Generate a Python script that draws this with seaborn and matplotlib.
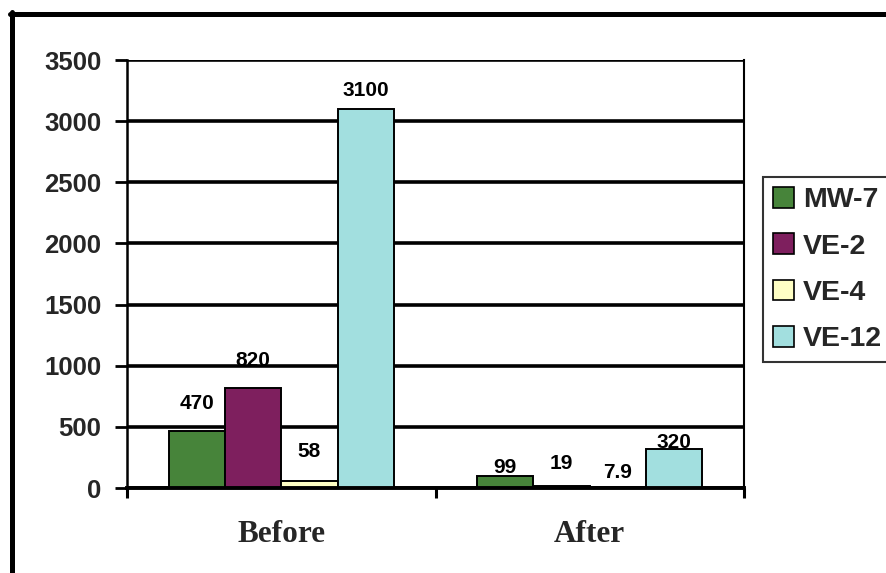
import matplotlib
matplotlib.use("Agg")
import matplotlib.pyplot as plt
from matplotlib.lines import Line2D
import seaborn as sns
import pandas as pd

# Measurements per well, before and after treatment
periods = ["Before", "After"]
wells = ["MW-7", "VE-2", "VE-4", "VE-12"]
before_vals = [470, 820, 58, 3100]
after_vals = [99, 19, 7.9, 320]
value_labels_before = ["470", "820", "58", "3100"]
value_labels_after = ["99", "19", "7.9", "320"]
y_ticks = [0, 500, 1000, 1500, 2000, 2500, 3000, 3500]

colors = ["#47843A", "#7E1F5E", "#FFFFC4", "#A2DFDF"]

# vertical offset (pixels) of each value label above its bar
label_lift_before = [27, 27, 29, 18]
label_lift_after = [8, 22, 15, 6]

df = pd.DataFrame({
    "period": [p for p in periods for _ in wells],
    "well": wells * 2,
    "value": before_vals + after_vals,
})

sns.set_theme(style="white")
plt.rcParams["font.family"] = ["Liberation Sans", "DejaVu Sans"]

DPI = 100
fig = plt.figure(figsize=(8.86, 5.73), dpi=DPI)
fig.patch.set_facecolor("white")
ax = fig.add_axes([127 / 886, 85 / 573, (744 - 127) / 886, (488 - 60) / 573])

sns.barplot(data=df, x="period", y="value", hue="well", order=periods,
            hue_order=wells, palette=colors, width=0.73, gap=0,
            edgecolor="black", linewidth=1.4, saturation=1, ax=ax,
            errorbar=None, legend=True)

ax.set_ylim(0, 3500)
ax.set_xlim(-0.5, 1.5)
ax.set_yticks(y_ticks)
ax.set_yticklabels([str(t) for t in y_ticks], fontsize=18.5, fontweight="bold")
ax.set_xlabel("")
ax.set_ylabel("")

# gridlines above the value labels, below the bars
ax.set_axisbelow(True)
ax.yaxis.grid(True, color="black", linewidth=2.6)
ax.xaxis.grid(False)

# category boundary ticks, names centred in between
ax.set_xticks([-0.5, 0.5, 1.5])
ax.set_xticklabels(["", "", ""])
ax.set_xticks([0, 1], minor=True)
ax.set_xticklabels(periods, minor=True, fontsize=22.5, fontweight="bold",
                   family=["Liberation Serif", "DejaVu Serif"])
ax.tick_params(axis="x", which="major", direction="out", length=7,
               width=2.2, color="black", bottom=True)
ax.tick_params(axis="x", which="minor", length=0, pad=23, bottom=True)
ax.tick_params(axis="y", direction="out", length=8.6, width=2.0,
               color="black", pad=10, left=True)

ax.spines["top"].set_visible(False)
ax.spines["left"].set_linewidth(1.8)
ax.spines["left"].set_color("black")
ax.spines["right"].set_linewidth(1.5)
ax.spines["right"].set_color("black")
ax.spines["bottom"].set_linewidth(2.8)
ax.spines["bottom"].set_color("black")

# value labels
for h, cont in enumerate(ax.containers):
    texts = [value_labels_before[h], value_labels_after[h]]
    lifts = [label_lift_before[h], label_lift_after[h]]
    vals = [before_vals[h], after_vals[h]]
    for i, bar in enumerate(cont):
        cx = bar.get_x() + bar.get_width() / 2
        ax.annotate(texts[i], xy=(cx, vals[i]),
                    xytext=(0, lifts[i] * 72 / DPI), textcoords="offset points",
                    ha="center", va="center", fontsize=15,
                    fontweight="bold", color="black", zorder=0.3,
                    annotation_clip=False)

# legend
handles, labels = ax.get_legend_handles_labels()
ax.get_legend().remove()
leg = fig.legend(handles, labels, loc="upper left",
                 bbox_to_anchor=(763 / 886, (573 - 177) / 573),
                 bbox_transform=fig.transFigure, frameon=True,
                 fancybox=False, shadow=False, borderpad=0.35,
                 labelspacing=0.7, handlelength=0.75, handleheight=0.75,
                 handletextpad=0.3, borderaxespad=0,
                 prop={"size": 20.5, "weight": "bold"})
leg.get_frame().set_edgecolor("black")
leg.get_frame().set_linewidth(1.5)
for p in leg.get_patches():
    p.set_edgecolor("black")
    p.set_linewidth(1.2)

# outer chart border (top and left edges)
fig.add_artist(Line2D([10 / 886, 1.0], [1 - 14 / 573, 1 - 14 / 573],
                      transform=fig.transFigure, color="black", linewidth=3.6))
fig.add_artist(Line2D([12 / 886, 12 / 886], [1 - 12 / 573, 0.0],
                      transform=fig.transFigure, color="black", linewidth=3.6))

fig.savefig("out.png", dpi=DPI)
